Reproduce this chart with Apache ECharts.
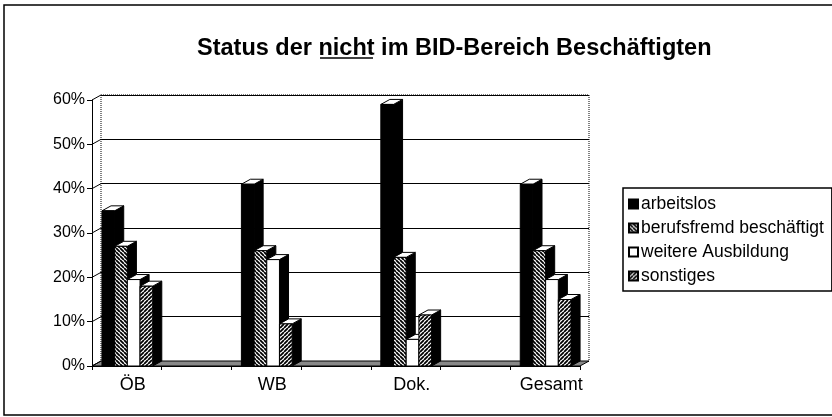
<!DOCTYPE html>
<html>
<head>
<meta charset="utf-8">
<script src="https://cdn.jsdelivr.net/npm/echarts@6/dist/echarts.min.js"></script>
<style>
  html, body { margin: 0; padding: 0; background: #fff; }
  #chart { width: 832px; height: 417px; }
</style>
</head>
<body>
<div id="chart"></div>
<script>
// groups on the x axis (blank slots sit between them)
const groups = ['ÖB', 'WB', 'Dok.', 'Gesamt'];
const seriesNames = ['arbeitslos', 'berufsfremd beschäftigt', 'weitere Ausbildung', 'sonstiges'];
// values in percent
const arbeitslos = [35, 41, 59, 41];
const berufsfremd = [27, 26, 24.5, 26];
const weitere = [19.5, 24, 6, 19.5];
const sonstiges = [18, 9.5, 11.5, 15];
const yTicks = [0, 10, 20, 30, 40, 50, 60];

const FONT = 'Liberation Sans, Arial, sans-serif';

// category axis: group, blank, group, blank ...
const categories = [];
groups.forEach((g, i) => {
  categories.push(g);
  if (i < groups.length - 1) categories.push('');
});

// hatch patterns for the front faces
function makePattern(kind) {
  const s = 4;
  const c = document.createElement('canvas');
  c.width = s; c.height = s;
  const ctx = c.getContext('2d');
  ctx.fillStyle = '#fff';
  ctx.fillRect(0, 0, s, s);
  if (kind === 'solid') {
    ctx.fillStyle = '#000';
    ctx.fillRect(0, 0, s, s);
  } else if (kind === 'back' || kind === 'fwd') {
    ctx.strokeStyle = '#000';
    ctx.lineWidth = 1.8;
    ctx.beginPath();
    for (let i = -1; i <= 1; i++) {
      if (kind === 'back') {
        ctx.moveTo(i * s, 0); ctx.lineTo(i * s + s, s);
      } else {
        ctx.moveTo(i * s, s); ctx.lineTo(i * s + s, 0);
      }
    }
    ctx.stroke();
  }
  return { image: c, repeat: 'repeat' };
}
const fills = [makePattern('solid'), makePattern('back'), '#fff', makePattern('fwd')];

const chart = echarts.init(document.getElementById('chart'), null, { renderer: 'canvas' });

// 3d bar: front face, top face and dark side
function barRenderer(k) {
  return function (params, api) {
    const x = api.value(0);
    const v = api.value(1);
    const base = api.coord([x, 0]);
    const top = api.coord([x, v]);
    const slot = api.size([1, 0])[0];
    const w = slot * 0.182;
    const dx = slot * 0.13;
    const dy = -5;
    const left = base[0] - slot / 2 + slot * 0.143 + k * w;
    const yT = top[1], yB = base[1];
    return {
      type: 'group',
      children: [
        {
          type: 'polygon',
          shape: { points: [[left + w, yT], [left + w + dx, yT + dy], [left + w + dx, yB + dy], [left + w, yB]] },
          style: { fill: '#000', stroke: '#000', lineWidth: 1 }
        },
        {
          type: 'polygon',
          shape: { points: [[left, yT], [left + dx, yT + dy], [left + w + dx, yT + dy], [left + w, yT]] },
          style: { fill: '#fff', stroke: '#000', lineWidth: 1 }
        },
        {
          type: 'rect',
          shape: { x: left, y: yT, width: w, height: yB - yT },
          style: { fill: fills[k], stroke: '#000', lineWidth: 1 }
        }
      ]
    };
  };
}

// floor, back wall edges and tick connectors
function frameRenderer(params, api) {
  const cs = params.coordSys;
  const dx = 9, dy = -5;
  const x = cs.x, y = cs.y, w = cs.width, h = cs.height;
  const children = [
    {
      type: 'polygon',
      shape: { points: [[x, y + h], [x + w, y + h], [x + w + dx, y + h + dy], [x + dx, y + h + dy]] },
      style: { fill: '#888', stroke: '#000', lineWidth: 1 }
    }
  ];
  const dotted = { stroke: '#000', lineWidth: 1, lineDash: [1, 1] };
  children.push({ type: 'line', shape: { x1: x + dx, y1: y + dy, x2: x + dx, y2: y + h + dy }, style: dotted });
  children.push({ type: 'line', shape: { x1: x + dx, y1: y + dy, x2: x + w + dx, y2: y + dy }, style: dotted });
  children.push({ type: 'line', shape: { x1: x + w + dx, y1: y + dy, x2: x + w + dx, y2: y + h + dy }, style: dotted });
  yTicks.forEach(t => {
    const yy = api.coord([0, t])[1];
    children.push({ type: 'line', shape: { x1: x, y1: yy, x2: x + dx, y2: yy + dy }, style: { stroke: '#000', lineWidth: 1 } });
  });
  return { type: 'group', children: children };
}

const valueSets = [arbeitslos, berufsfremd, weitere, sonstiges];
const barSeries = valueSets.map((vals, k) => ({
  name: seriesNames[k],
  type: 'custom',
  xAxisIndex: 0,
  yAxisIndex: 0,
  renderItem: barRenderer(k),
  itemStyle: { color: fills[k], borderColor: '#000', borderWidth: 1 },
  encode: { x: 0, y: 1 },
  data: vals.map((v, i) => [i * 2, v]),
  z: 3 + k
}));

const option = {
  animation: false,
  backgroundColor: '#fff',
  textStyle: { fontFamily: FONT, color: '#000' },
  title: {
    text: 'Status der nicht im BID-Bereich Beschäftigten',
    left: 192,
    top: 32,
    textStyle: { fontSize: 23.5, fontWeight: 'bold', color: '#000', fontFamily: FONT }
  },
  legend: {
    orient: 'vertical',
    left: 623,
    top: 188,
    padding: [7, 8, 6, 5],
    itemGap: 6,
    itemWidth: 9,
    itemHeight: 9,
    icon: 'rect',
    borderColor: '#000',
    borderWidth: 1.5,
    data: seriesNames,
    textStyle: { fontSize: 17.5, lineHeight: 18, color: '#000', fontFamily: FONT, padding: [0, 0, 0, -2] }
  },
  grid: [
    { left: 92, right: 252, top: 100, bottom: 51 },
    { left: 101, right: 243, top: 95, bottom: 56 }
  ],
  xAxis: [
    {
      type: 'category',
      gridIndex: 0,
      data: categories,
      boundaryGap: true,
      axisLine: { show: true, lineStyle: { color: '#000', width: 1 } },
      axisTick: { show: true, interval: 0, length: 4, lineStyle: { color: '#000' } },
      axisLabel: { interval: 0, margin: 10, fontSize: 18, color: '#000', fontFamily: FONT, padding: [0, 0, 0, 12] },
      splitLine: { show: false },
      z: 10
    },
    { type: 'category', gridIndex: 1, data: categories, show: false }
  ],
  yAxis: [
    {
      type: 'value',
      gridIndex: 0,
      min: 0,
      max: 60,
      interval: 10,
      axisLine: { show: true, lineStyle: { color: '#000', width: 1 } },
      axisTick: { show: true, length: 5, lineStyle: { color: '#000' } },
      axisLabel: { formatter: '{value}%', fontSize: 16, color: '#000', margin: 7, fontFamily: FONT },
      splitLine: { show: false }
    },
    {
      type: 'value',
      gridIndex: 1,
      min: 0,
      max: 60,
      interval: 10,
      axisLine: { show: false },
      axisTick: { show: false },
      axisLabel: { show: false },
      splitLine: { show: true, lineStyle: { color: '#000', width: 1 } }
    }
  ],
  graphic: [
    {
      type: 'rect',
      shape: { x: 4, y: 5, width: 900, height: 410 },
      style: { fill: null, stroke: '#000', lineWidth: 1.5 },
      silent: true
    },
    {
      // underline under "nicht"
      type: 'line',
      shape: { x1: 320, y1: 58, x2: 373, y2: 58 },
      style: { stroke: '#000', lineWidth: 1.5 },
      silent: true
    }
  ],
  series: [
    {
      name: 'frame',
      type: 'custom',
      xAxisIndex: 0,
      yAxisIndex: 0,
      renderItem: frameRenderer,
      data: [[0, 0]],
      silent: true,
      z: 1
    }
  ].concat(barSeries)
};

chart.setOption(option);
</script>
</body>
</html>
